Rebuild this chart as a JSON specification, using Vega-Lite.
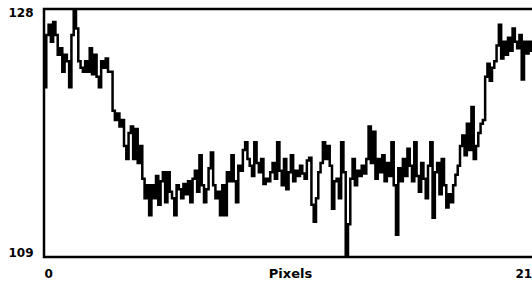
{
  "$schema": "https://vega.github.io/schema/vega-lite/v6.json",
  "autosize": "none",
  "width": 496,
  "height": 248,
  "padding": {"left": 44, "top": 9, "right": 0, "bottom": 32},
  "background": "white",
  "config": {
    "view": {"stroke": "black", "strokeWidth": 2.5},
    "font": "DejaVu Sans"
  },
  "data": {"values": [
{"x":0,"v":122},{"x":1,"v":126},{"x":2,"v":126.8},{"x":3,"v":125.5},{"x":4,"v":127},{"x":5,"v":126},{"x":6,"v":124.5},{"x":7,"v":125},{"x":8,"v":123.2},{"x":9,"v":124.5},
{"x":10,"v":124},{"x":11,"v":122},{"x":12,"v":126},{"x":13,"v":128},{"x":14,"v":126.5},{"x":15,"v":124},{"x":16,"v":123.5},{"x":17,"v":123.2},{"x":18,"v":124},{"x":19,"v":123.2},
{"x":20,"v":125},{"x":21,"v":123},{"x":22,"v":124.5},{"x":23,"v":122.8},{"x":24,"v":122},{"x":25,"v":124},{"x":26,"v":123.5},{"x":27,"v":124.2},{"x":28,"v":123.2},{"x":29,"v":123.2},
{"x":30,"v":120.2},{"x":31,"v":119.5},{"x":32,"v":120},{"x":33,"v":119},{"x":34,"v":119.5},{"x":35,"v":117.5},{"x":36,"v":116.5},{"x":37,"v":118.5},{"x":38,"v":119},{"x":39,"v":116.5},
{"x":40,"v":118.8},{"x":41,"v":116.2},{"x":42,"v":117.5},{"x":43,"v":115},{"x":44,"v":113.5},{"x":45,"v":114.5},{"x":46,"v":112.2},{"x":47,"v":114.5},{"x":48,"v":113.5},{"x":49,"v":115.2},
{"x":50,"v":113},{"x":51,"v":114.8},{"x":52,"v":115.5},{"x":53,"v":113.2},{"x":54,"v":115.5},{"x":55,"v":114},{"x":56,"v":113.5},{"x":57,"v":112.2},{"x":58,"v":114.5},{"x":59,"v":114.2},
{"x":60,"v":113.5},{"x":61,"v":114.6},{"x":62,"v":113.8},{"x":63,"v":114.8},{"x":64,"v":113.2},{"x":65,"v":115},{"x":66,"v":115.6},{"x":67,"v":114},{"x":68,"v":116.8},{"x":69,"v":114.5},
{"x":70,"v":113.2},{"x":71,"v":114.2},{"x":72,"v":115.8},{"x":73,"v":117},{"x":74,"v":114.5},{"x":75,"v":113.5},{"x":76,"v":114},{"x":77,"v":112.2},{"x":78,"v":114.5},{"x":79,"v":112.2},
{"x":80,"v":115.5},{"x":81,"v":114.8},{"x":82,"v":116.8},{"x":83,"v":114.8},{"x":84,"v":113.2},{"x":85,"v":116},{"x":86,"v":115.6},{"x":87,"v":117.2},{"x":88,"v":117.8},{"x":89,"v":116.5},
{"x":90,"v":116},{"x":91,"v":115.2},{"x":92,"v":117.8},{"x":93,"v":116.2},{"x":94,"v":115.5},{"x":95,"v":116.5},{"x":96,"v":114.6},{"x":97,"v":115},{"x":98,"v":114.8},{"x":99,"v":115.5},
{"x":100,"v":116.2},{"x":101,"v":115},{"x":102,"v":117.8},{"x":103,"v":115.6},{"x":104,"v":114.5},{"x":105,"v":116.5},{"x":106,"v":114.2},{"x":107,"v":115.5},{"x":108,"v":116.8},{"x":109,"v":114.8},
{"x":110,"v":115.6},{"x":111,"v":115.2},{"x":112,"v":116},{"x":113,"v":115.4},{"x":114,"v":115},{"x":115,"v":116.4},{"x":116,"v":116.6},{"x":117,"v":113},{"x":118,"v":111.7},{"x":119,"v":113.5},
{"x":120,"v":115.5},{"x":121,"v":116.2},{"x":122,"v":117.8},{"x":123,"v":116.5},{"x":124,"v":117.5},{"x":125,"v":116},{"x":126,"v":112.7},{"x":127,"v":114.8},{"x":128,"v":115},{"x":129,"v":113.5},
{"x":130,"v":117.8},{"x":131,"v":115.5},{"x":132,"v":109},{"x":133,"v":111.5},{"x":134,"v":115},{"x":135,"v":116.5},{"x":136,"v":114.5},{"x":137,"v":115.6},{"x":138,"v":115.2},{"x":139,"v":116},
{"x":140,"v":115.4},{"x":141,"v":116.5},{"x":142,"v":119},{"x":143,"v":116.2},{"x":144,"v":118.6},{"x":145,"v":115},{"x":146,"v":116.5},{"x":147,"v":115.5},{"x":148,"v":116.8},{"x":149,"v":114.8},
{"x":150,"v":116.2},{"x":151,"v":115.2},{"x":152,"v":117.8},{"x":153,"v":114.5},{"x":154,"v":110.7},{"x":155,"v":115.8},{"x":156,"v":114.8},{"x":157,"v":116.5},{"x":158,"v":115.2},{"x":159,"v":117.3},
{"x":160,"v":116},{"x":161,"v":114.8},{"x":162,"v":117.8},{"x":163,"v":115.2},{"x":164,"v":114},{"x":165,"v":116.2},{"x":166,"v":115},{"x":167,"v":113.5},{"x":168,"v":116},{"x":169,"v":117.8},
{"x":170,"v":112},{"x":171,"v":115.5},{"x":172,"v":116.2},{"x":173,"v":113.8},{"x":174,"v":116.5},{"x":175,"v":114.5},{"x":176,"v":112.8},{"x":177,"v":113.8},{"x":178,"v":113.2},{"x":179,"v":114.5},
{"x":180,"v":115.3},{"x":181,"v":116},{"x":182,"v":117.5},{"x":183,"v":118.3},{"x":184,"v":116.8},{"x":185,"v":119.2},{"x":186,"v":117.2},{"x":187,"v":120.5},{"x":188,"v":116.5},{"x":189,"v":117.5},
{"x":190,"v":118.5},{"x":191,"v":119.2},{"x":192,"v":119.5},{"x":193,"v":122.8},{"x":194,"v":123.8},{"x":195,"v":122.5},{"x":196,"v":123.5},{"x":197,"v":124},{"x":198,"v":125.2},{"x":199,"v":126.8},
{"x":200,"v":124.2},{"x":201,"v":125.5},{"x":202,"v":124.5},{"x":203,"v":125.8},{"x":204,"v":124.8},{"x":205,"v":126.5},{"x":206,"v":125.5},{"x":207,"v":125},{"x":208,"v":126},{"x":209,"v":122.6},
{"x":210,"v":125.5},{"x":211,"v":124.6},{"x":212,"v":125.5},{"x":213,"v":124.8},{"x":214,"v":125.2},{"x":215,"v":125},{"x":216,"v":124.6},{"x":217,"v":125.3}
  ]},
  "mark": {"type": "line", "interpolate": "step-after", "color": "black", "strokeWidth": 2.5, "clip": true},
  "encoding": {
    "x": {
      "field": "x", "type": "quantitative",
      "scale": {"domain": [0, 217], "nice": false, "zero": false},
      "axis": {
        "values": [0, 217], "grid": false, "domain": false, "ticks": false,
        "labelFlush": true, "labelPadding": 11, "labelFont": "DejaVu Sans", "labelFontWeight": "bold",
        "labelFontSize": 12, "labelColor": "black",
        "title": "Pixels", "titleFont": "DejaVu Sans", "titleFontWeight": "bold", "titleFontSize": 13,
        "titleColor": "black", "titleBaseline": "top", "titleY": 10, "titleX": 246
      }
    },
    "y": {
      "field": "v", "type": "quantitative",
      "scale": {"domain": [109, 128], "nice": false, "zero": false},
      "axis": {
        "values": [109, 128], "grid": false, "domain": false, "ticks": false,
        "labelFlush": true, "labelFlushOffset": 2, "labelPadding": 11, "labelFont": "DejaVu Sans", "labelFontWeight": "bold",
        "labelFontSize": 12, "labelColor": "black", "title": null
      }
    }
  }
}
